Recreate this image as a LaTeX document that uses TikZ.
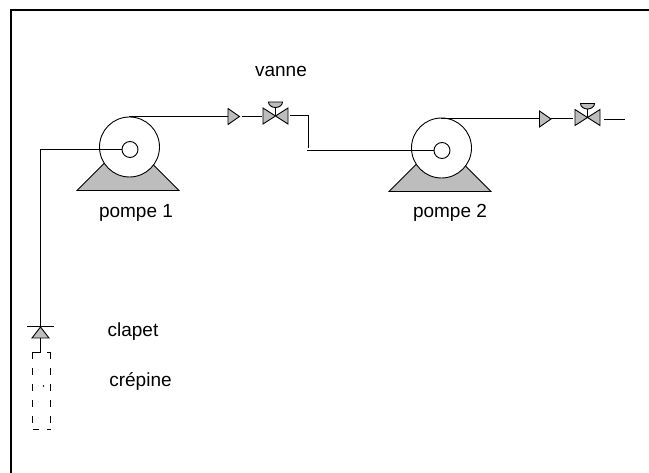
\documentclass[tikz,border=0pt]{standalone}
\usepackage{fontspec}
\setmainfont{Liberation Sans}
\usetikzlibrary{calc}
\tikzset{
  pipe/.style={draw=black,line width=0.9pt},
  shaded/.style={draw=black,fill=black!26,line width=0.9pt},
  lbl/.style={font=\fontsize{19pt}{22pt}\selectfont,inner sep=0pt,anchor=base},
}
% pump at (0,0) = centre of the small circle
\newcommand{\pompe}[1]{
  \begin{scope}[shift={(#1)}]
    \draw[shaded] (-53,41) -- (49,41) -- (-2,-10) -- cycle;
    \draw[pipe,fill=white] (-0.5,-2.5) circle (30);
    \draw[pipe,fill=white] (0,0) circle (8);
  \end{scope}
}
% valve at (0,0) = crossing point
\newcommand{\vanne}[1]{
  \begin{scope}[shift={(#1)}]
    \draw[shaded] (-12.5,-8) -- (12.5,8) -- (12.5,-8) -- (-12.5,8) -- cycle;
    \draw[pipe] (0,0) -- (0,-14);
    \draw[shaded] (-7,-14) arc[start angle=180,end angle=0,x radius=7,y radius=5.5] -- cycle;
  \end{scope}
}
% check valve, tip to the right
\newcommand{\clapetd}[1]{
  \draw[shaded] ($(#1)+(-11.5,-8)$) -- ($(#1)+(0,0)$) -- ($(#1)+(-11.5,8)$) -- cycle;
}
\begin{document}
\begin{tikzpicture}[x=1pt,y=-1pt]
\useasboundingbox (0,0) rectangle (649,473);
\draw[line width=2pt] (11,473) -- (11,10) -- (649,10);

%pipes
\coordinate (suction1) at (40,149.5);
\coordinate (clapetTop) at (40,327);
\coordinate (pump1eye) at (122,149.5);
\coordinate (pump1top) at (129,116.5);
\coordinate (cone1) at (228,116.5);
\coordinate (bend) at (308.5,115.5);
\coordinate (bend2) at (308.5,148);
\coordinate (pipe2start) at (307,150.5);
\coordinate (pump2eye) at (434,150.5);
\coordinate (pump2top) at (441,118.5);
\coordinate (cone2) at (539,118.5);

%pumps
\pompe{130,149.5}
\pompe{442,150.5}

\draw[pipe] (pump1eye) -- (suction1) -- (clapetTop);
\draw[pipe] (pump1top) -- (cone1);
\draw[pipe] (242,116.5) -- (262,116.5);
\draw[pipe] (290,115.5) -- (bend) -- (bend2);
\draw[pipe] (pipe2start) -- (pump2eye);
\draw[pipe] (pump2top) -- (cone2);
\draw[pipe] (551,118.5) -- (573,118.5);
\draw[pipe] (604,119.5) -- (625,119.5);

%cones
\clapetd{239.5,116.5}
\clapetd{551,119}

%valves
\vanne{275.5,116}
\vanne{587.5,117.5}

%clapet + crepine
\draw[pipe] (27,326.5) -- (54,326.5);
\draw[shaded] (32,338) -- (49,338) -- (40.5,327) -- cycle;
\draw[pipe] (40.5,338) -- (40.5,352);
\draw[pipe] (32.5,352.5) -- (40.5,352.5);
\draw[pipe,dash pattern=on 7pt off 9pt] (32.5,352.5) -- (32.5,429.5);
\draw[pipe,dash pattern=on 7pt off 9pt] (50.5,352.5) -- (50.5,429.5);
\draw[pipe] (47,352.5) -- (50.5,352.5);
\draw[pipe] (32.5,429.5) -- (39,429.5);
\draw[pipe] (47,429.5) -- (50.5,429.5);
\fill (43.5,386) circle (0.8);

%labels
\node[lbl] (lblVanne) at (281,77) {vanne};
\node[lbl] (lblPompeA) at (136,218) {pompe 1};
\node[lbl] (lblPompeB) at (450,218) {pompe 2};
\node[lbl] (lblClapet) at (133,337) {clapet};
\node[lbl] (lblCrepine) at (140.5,387) {crépine};
\end{tikzpicture}
\end{document}
